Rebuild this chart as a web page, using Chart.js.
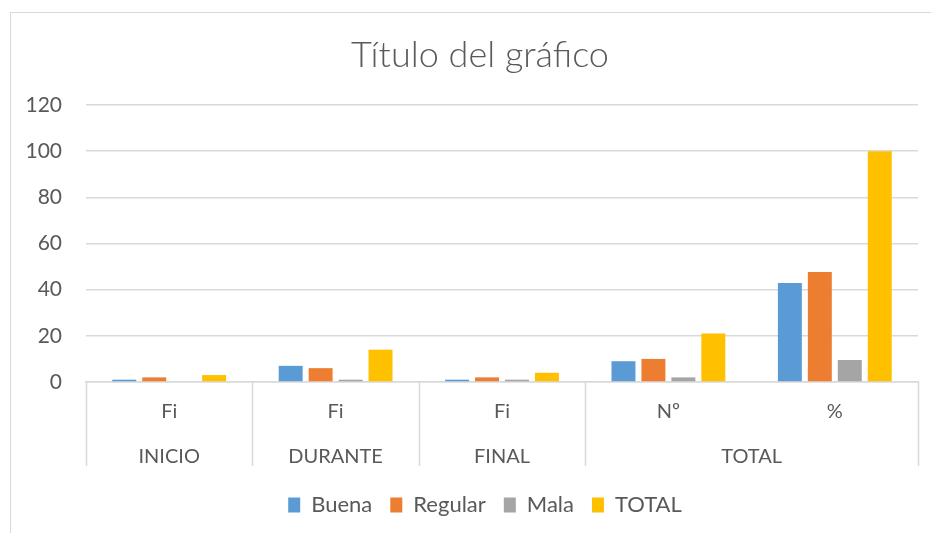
<!DOCTYPE html>
<html>
<head>
<meta charset="utf-8">
<script src="https://cdn.jsdelivr.net/npm/chart.js@4.4.0/dist/chart.umd.min.js"></script>
<style>
html,body{margin:0;padding:0;background:#fff;}
#wrap{position:relative;width:931px;height:533px;}
</style>
</head>
<body>
<div id="wrap"><canvas id="c" width="931" height="533"></canvas></div>
<script>
// Data
const titleText = 'Título del gráfico';
const subLabels = ['Fi', 'Fi', 'Fi', 'Nº', '%'];
const groupLabels = ['INICIO', 'DURANTE', 'FINAL', 'TOTAL'];
const groupSpans = [1, 1, 1, 2];
const buena = [1, 7, 1, 9, 42.86];
const regular = [2, 6, 2, 10, 47.62];
const mala = [0, 1, 1, 2, 9.52];
const total = [3, 14, 4, 21, 100];
const yTicks = { min: 0, max: 120, step: 20 };

const GRID = '#d9d9d9';
const TXT = '#595959';
const FONT = 'Lato, "Open Sans", sans-serif';

const multiLevel = {
  id: 'multiLevel',
  afterLayout(chart) {
    if (chart.legend) {
      chart.legend.left += 21;
      chart.legend.right += 21;
    }
  },
  beforeDraw(chart) {
    const ctx = chart.ctx;
    ctx.save();
    ctx.strokeStyle = GRID;
    ctx.lineWidth = 1;
    ctx.strokeRect(10.5, 12.5, 940, 540);
    ctx.fillStyle = TXT;
    ctx.font = '300 36px ' + FONT;
    ctx.textAlign = 'center';
    ctx.textBaseline = 'middle';
    ctx.fillText(titleText, 480, 55);
    ctx.restore();
  },
  afterDraw(chart) {
    const ctx = chart.ctx;
    const area = chart.chartArea;
    const n = subLabels.length;
    const w = (area.right - area.left) / n;
    const y0 = area.bottom;
    const y1 = area.bottom + 84;
    ctx.save();
    ctx.strokeStyle = GRID;
    ctx.lineWidth = 1.5;
    let idx = 0;
    const bounds = [0];
    groupSpans.forEach(s => { idx += s; bounds.push(idx); });
    bounds.forEach(b => {
      const px = Math.round(area.left + b * w) + 0.5;
      ctx.beginPath();
      ctx.moveTo(px, y0);
      ctx.lineTo(px, y1);
      ctx.stroke();
    });
    ctx.fillStyle = TXT;
    ctx.font = '20px ' + FONT;
    ctx.textAlign = 'center';
    ctx.textBaseline = 'middle';
    groupLabels.forEach((g, i) => {
      const cx = area.left + (bounds[i] + bounds[i + 1]) / 2 * w;
      ctx.fillText(g, cx, y0 + 75);
    });
    ctx.restore();
  }
};

new Chart(document.getElementById('c'), {
  type: 'bar',
  data: {
    labels: subLabels,
    datasets: [
      { label: 'Buena', data: buena, backgroundColor: '#5B9BD5' },
      { label: 'Regular', data: regular, backgroundColor: '#ED7D31' },
      { label: 'Mala', data: mala, backgroundColor: '#A5A5A5' },
      { label: 'TOTAL', data: total, backgroundColor: '#FFC000' }
    ]
  },
  options: {
    responsive: false,
    animation: false,
    devicePixelRatio: 1,
    layout: { padding: { left: 10, right: 13, top: 105, bottom: 7 } },
    datasets: { bar: { categoryPercentage: 0.72, barPercentage: 0.8 } },
    plugins: {
      title: { display: false },
      legend: {
        position: 'bottom',
        labels: {
          color: TXT,
          font: { family: FONT, size: 22 },
          boxWidth: 12,
          boxHeight: 15,
          padding: 18
        }
      },
      tooltip: { enabled: false }
    },
    scales: {
      x: {
        grid: { display: false, drawTicks: false },
        border: { display: true, color: GRID, width: 1.5 },
        ticks: { color: TXT, font: { family: FONT, size: 20 }, padding: 18, maxRotation: 0 },
        afterFit(s) { s.height = 94; }
      },
      y: {
        min: yTicks.min, max: yTicks.max,
        grid: { color: GRID, lineWidth: 1.5, drawTicks: false },
        border: { display: false },
        ticks: { stepSize: yTicks.step, color: TXT, font: { family: FONT, size: 21 }, padding: 24 },
        afterFit(s) { s.width = 76; }
      }
    }
  },
  plugins: [multiLevel]
});
</script>
</body>
</html>
